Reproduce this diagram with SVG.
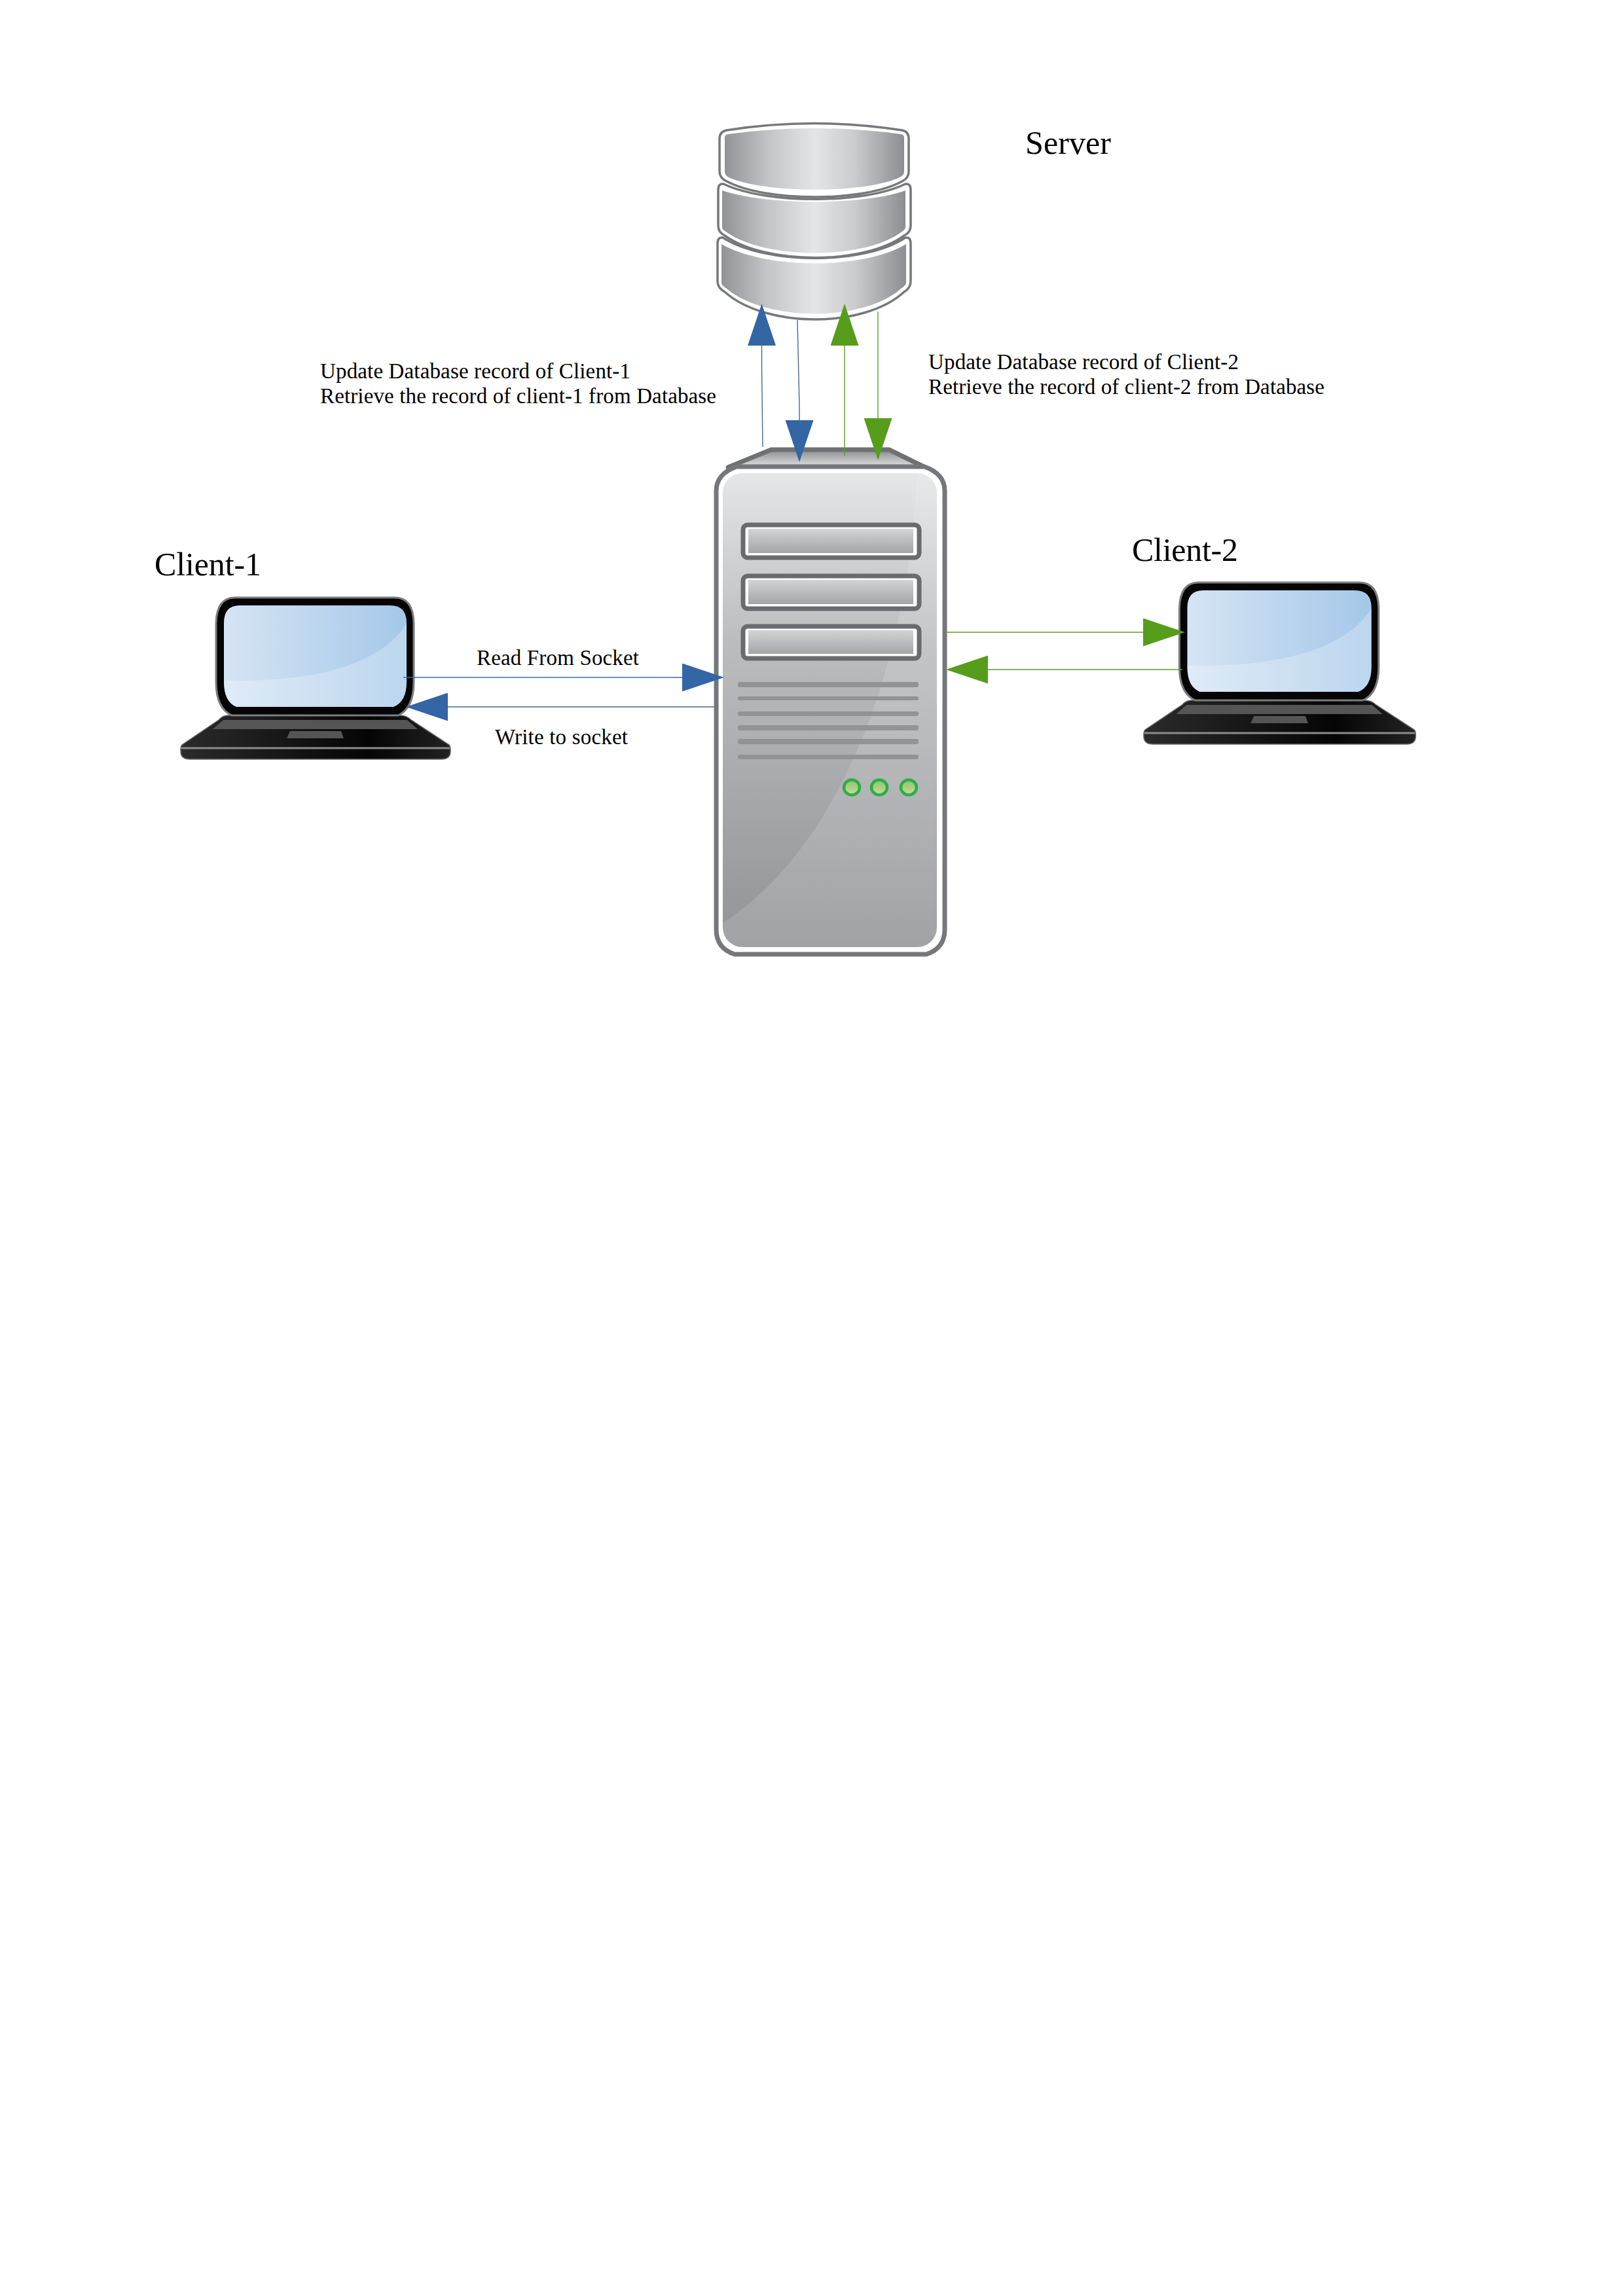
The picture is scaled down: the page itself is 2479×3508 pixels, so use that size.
<svg xmlns="http://www.w3.org/2000/svg" xmlns:xlink="http://www.w3.org/1999/xlink" width="2479" height="3508" viewBox="0 0 2479 3508">
<style>
text{font-family:"Liberation Serif","Times New Roman",serif;fill:#000}
.s{font-size:33px}
.l{font-size:50px}
.c{fill:none;stroke-width:1.4}
.b{stroke:#46698f}
.g{stroke:#5f9c2a}
.disc{fill:#fff;stroke:#77787b;stroke-width:3.5}
.bay{fill:#fff;stroke:#6a6b6f;stroke-width:7}
.vent{fill:#929397}
.led{fill:url(#ledG);stroke:#2cae4a;stroke-width:4.500}
</style>
<defs>
<linearGradient id="dbG" x1="0" x2="1" y1="0" y2="0">
<stop offset="0" stop-color="#929397"/><stop offset=".25" stop-color="#c4c5c7"/><stop offset=".5" stop-color="#e4e5e6"/><stop offset=".72" stop-color="#cbccce"/><stop offset="1" stop-color="#8d8e92"/>
</linearGradient>
<linearGradient id="bodyG" x1="0" x2="0" y1="0" y2="1">
<stop offset="0" stop-color="#e5e6e7"/><stop offset=".35" stop-color="#bcbdbf"/><stop offset="1" stop-color="#929397"/>
</linearGradient>
<linearGradient id="bayG" x1="0" x2="0" y1="0" y2="1">
<stop offset="0" stop-color="#d2d3d5"/><stop offset="1" stop-color="#a4a5a8"/>
</linearGradient>
<linearGradient id="capG" x1="0" x2="0" y1="0" y2="1">
<stop offset="0" stop-color="#8a8b8e"/><stop offset="1" stop-color="#e2e3e4"/>
</linearGradient>
<linearGradient id="ledG" x1="0" x2="0" y1="0" y2="1">
<stop offset="0" stop-color="#8fc46c"/><stop offset="1" stop-color="#c6dc94"/>
</linearGradient>
<linearGradient id="scrG" x1="0" x2="1" y1="0" y2="0">
<stop offset="0" stop-color="#d5e4f4"/><stop offset="1" stop-color="#a4c8e9"/>
</linearGradient>
<linearGradient id="baseG" x1="0" x2="1" y1="0" y2="0">
<stop offset="0" stop-color="#2b2b2b"/><stop offset=".7" stop-color="#050505"/><stop offset="1" stop-color="#222"/>
</linearGradient>
<clipPath id="bodyClip"><rect x="1104" y="723" width="327" height="724" rx="30"/></clipPath>
<marker id="ab" markerUnits="userSpaceOnUse" markerWidth="64" markerHeight="43" viewBox="0 0 64 43" refX="0" refY="21.5" orient="auto"><path d="M0 0L64 21.5L0 43Z" fill="#3465a4"/></marker>
<marker id="ag" markerUnits="userSpaceOnUse" markerWidth="64" markerHeight="43" viewBox="0 0 64 43" refX="0" refY="21.5" orient="auto"><path d="M0 0L64 21.5L0 43Z" fill="#579d1c"/></marker>
<g id="laptopShape">
<path d="M72 181H335Q345 181 352 188L410 226Q412 228 412 232V236Q412 248 398 248H14Q0 248 0 236V232Q0 228 2 226L58 188Q64 181 72 181Z" fill="url(#baseG)" stroke="#6a6a6a" stroke-width="1.5"/>
<path d="M65 188H346L362 202H49Z" fill="#555"/>
<path d="M167 205H245L249 216H162Z" fill="#555"/>
<path d="M1 231H411" stroke="#8b8b8b" stroke-width="3" fill="none"/>
<path d="M83 1H327Q355 1 356 40V130Q356 170 332 181H78Q54 170 54 130V40Q55 1 83 1Z" fill="#050505" stroke="#7c7c7c" stroke-width="3"/>
<path d="M90 13H320Q345 13 345 40V130Q345 160 325 168H85Q66 160 66 130V40Q66 13 90 13Z" fill="url(#scrG)"/>
<path d="M345 41C300 110 190 130 66 128V130Q66 160 85 168H325Q345 160 345 130Z" fill="#fff" fill-opacity=".26"/>
</g>
</defs>
<rect width="2479" height="3508" fill="#fff"/>

<g id="database">
<path class="disc" d="M1096 372Q1096 362 1104 363C1170 405 1320 405 1383 363Q1391 362 1391 372V430Q1391 440 1381 446C1320 502 1170 502 1107 446Q1096 440 1096 430Z"/>
<path fill="url(#dbG)" d="M1102 373C1170 412 1320 412 1384 373V432Q1384 436 1376 441C1320 492 1170 492 1110 441Q1102 436 1102 432Z"/>
<path class="disc" d="M1097 290Q1097 280 1105 281C1170 312 1320 312 1383 281Q1391 280 1391 290V345Q1391 355 1381 360C1320 405 1170 405 1107 360Q1097 355 1097 345Z"/>
<path fill="url(#dbG)" d="M1103 291C1170 314 1320 314 1383 291V347Q1383 351 1376 355C1320 397 1170 397 1110 355Q1103 351 1103 347Z"/>
<path class="disc" d="M1099 212Q1099 201 1110 199Q1243 178 1378 199Q1388 201 1388 212V262Q1388 272 1378 277C1320 309 1170 309 1110 277Q1099 272 1099 262Z"/>
<path fill="url(#dbG)" d="M1107 210Q1107 206 1112 205Q1243 187 1376 205Q1381 206 1381 210V262Q1381 268 1374 271C1320 296 1170 296 1113 271Q1107 268 1107 262Z"/>
</g>

<g id="server">
<path d="M1112 714L1178 687H1358L1413 714Z" fill="url(#capG)" stroke="#6f7074" stroke-width="7" stroke-linejoin="round"/>
<path d="M1094 750Q1094 724 1125 713H1412Q1443 724 1443 750V1420Q1443 1449 1415 1458H1122Q1094 1449 1094 1420Z" fill="#fff" stroke="#76777b" stroke-width="7"/>
<rect x="1104" y="723" width="327" height="724" rx="30" fill="url(#bodyG)"/>
<path clip-path="url(#bodyClip)" d="M1400 723C1390 1000 1290 1290 1104 1410V1447H1431V723Z" fill="#fff" fill-opacity=".14"/>
<rect class="bay" x="1135" y="802" width="269" height="50" rx="7"/><rect x="1143" y="808" width="252" height="37" fill="url(#bayG)"/>
<rect class="bay" x="1135" y="880" width="269" height="50" rx="7"/><rect x="1143" y="886" width="252" height="37" fill="url(#bayG)"/>
<rect class="bay" x="1135" y="957" width="269" height="49" rx="7"/><rect x="1143" y="963" width="252" height="36" fill="url(#bayG)"/>
<rect class="vent" x="1127" y="1042" width="276" height="8" rx="3"/>
<rect class="vent" x="1127" y="1064" width="276" height="6" rx="3"/>
<rect class="vent" x="1127" y="1087" width="276" height="7" rx="3"/>
<rect class="vent" x="1127" y="1108" width="276" height="8" rx="3"/>
<rect class="vent" x="1127" y="1129" width="276" height="8" rx="3"/>
<rect class="vent" x="1127" y="1153" width="276" height="7" rx="3"/>
<ellipse class="led" cx="1301" cy="1203" rx="12" ry="11.500"/>
<ellipse class="led" cx="1343" cy="1203" rx="12" ry="11.500"/>
<ellipse class="led" cx="1388" cy="1203" rx="12" ry="11.500"/>
<text class="l" x="1566" y="235" textLength="131">Server</text>
</g>

<g id="client-1">
<use xlink:href="#laptopShape" href="#laptopShape" transform="translate(276 912)"/>
<text class="l" x="236" y="879" textLength="163">Client-1</text>
</g>

<g id="client-2">
<use xlink:href="#laptopShape" href="#laptopShape" transform="translate(1747 889) scale(1.008 1)"/>
<text class="l" x="1729" y="857" textLength="162">Client-2</text>
</g>

<g id="connectors">
<path class="c b" d="M616 1035H1042" marker-end="url(#ab)"/>
<path class="c b" d="M1091 1080H684" marker-end="url(#ab)"/>
<path class="c b" d="M1165 683L1163.500 560V528" marker-end="url(#ab)"/>
<path class="c b" d="M1218 489L1221 620V642" marker-end="url(#ab)"/>
<path class="c g" d="M1290 697V528" marker-end="url(#ag)"/>
<path class="c g" d="M1341 476V639" marker-end="url(#ag)"/>
<path class="c g" d="M1445 966H1746" marker-end="url(#ag)"/>
<path class="c g" d="M1806 1023H1509" marker-end="url(#ag)"/>
</g>

<g id="labels">
<text class="s" x="728" y="1016" textLength="248">Read From Socket</text>
<text class="s" x="756" y="1137" textLength="203">Write to socket</text>
<text class="s" x="489" y="578" textLength="474">Update Database record of Client-1</text>
<text class="s" x="489" y="616" textLength="605">Retrieve the record of client-1 from Database</text>
<text class="s" x="1418" y="564" textLength="474">Update Database record of Client-2</text>
<text class="s" x="1418" y="602" textLength="605">Retrieve the record of client-2 from Database</text>
</g>
</svg>
